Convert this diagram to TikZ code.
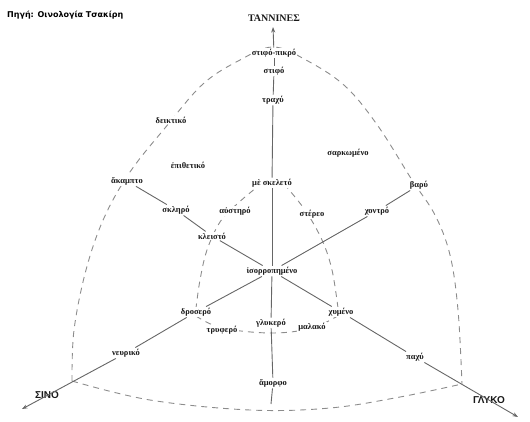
\documentclass[tikz,border=0pt]{standalone}
\usepackage{fontspec}
\setmainfont{Liberation Serif}
\newfontfamily\capsfont{Liberation Sans}
\newfontfamily\titlefont{DejaVu Sans}
\usetikzlibrary{arrows.meta,backgrounds}

\begin{document}
\begin{tikzpicture}[x=1pt,y=-1pt,
  lbl/.style={font=\fontsize{8.5}{9}\selectfont\bfseries, fill=white, inner sep=1.2pt, text=black!90},
  axlbl/.style={font=\capsfont\fontsize{10}{11}\selectfont\bfseries, inner sep=1pt, text=black!90},
  toplbl/.style={font=\fontsize{10}{11}\selectfont\bfseries, inner sep=1pt, text=black!90},
  srclbl/.style={font=\titlefont\fontsize{8}{9}\selectfont\bfseries, inner sep=0pt, anchor=west},
  axis/.style={draw=black!60, line width=0.9pt},
  guide/.style={draw=black!45, line width=0.9pt, dash pattern=on 6pt off 5pt},
  tip/.style={-{Stealth[length=5.5pt,width=4pt]}}
]
\useasboundingbox (0,0) rectangle (530,421);

% labels
\node[srclbl] (src) at (7,15) {Πηγή: Οινολογία Τσακίρη};
\node[toplbl] (tan) at (274,18) {ΤΑΝΝΙΝΕΣ};
\node[lbl] (stp) at (274,53) {στιφό-πικρό};
\node[lbl] (stf) at (274,71) {στιφό};
\node[lbl] (trx) at (273,100) {τραχύ};
\node[lbl] (dei) at (171,120) {δεικτικό};
\node[lbl] (epi) at (188,165) {ἐπιθετικό};
\node[lbl] (sar) at (348,153) {σαρκωμένο};
\node[lbl] (aka) at (127,181) {ἄκαμπτο};
\node[lbl] (msk) at (272,183) {μὲ σκελετό};
\node[lbl] (var) at (419,185) {βαρύ};
\node[lbl] (skl) at (176,210) {σκληρό};
\node[lbl] (afs) at (235,211) {αὐστηρό};
\node[lbl] (ste) at (312,214) {στέρεο};
\node[lbl] (xon) at (377,211) {χοντρό};
\node[lbl] (kle) at (212,236) {κλειστό};
\node[lbl] (iso) at (272,271) {ἰσορροπημένο};
\node[lbl] (dro) at (196,312) {δροσερό};
\node[lbl] (xym) at (341,312) {χυμένο};
\node[lbl] (gly) at (271,323) {γλυκερό};
\node[lbl] (tryf) at (222,330) {τρυφερό};
\node[lbl] (mal) at (312,327) {μαλακό};
\node[lbl] (nev) at (126,353) {νευρικό};
\node[lbl] (pax) at (415,357) {παχύ};
\node[lbl] (amo) at (273,383) {ἄμορφο};
\node[axlbl] (sino) at (47,395) {ΣΙΝΟ};
\node[axlbl] (glk) at (489,400) {ΓΛΥΚΟ};

% free ends of the three axes
\coordinate (tanTip) at (273,27);
\coordinate (sinoTip) at (22,409);
\coordinate (glkTip) at (518,417);
\coordinate (axEnd) at (271,404);

% tannin axis
\draw[axis,tip] (stp) -- (tanTip);
\draw[axis] (stf) -- (stp);
\draw[axis] (trx) -- (stf);
\draw[axis] (msk) -- (trx);
\draw[axis] (iso) -- (msk);
\draw[axis] (iso) -- (gly);
\draw[axis] (gly) -- (amo);
\draw[axis] (amo) -- (axEnd);

% acid axis
\draw[axis] (iso) -- (dro);
\draw[axis] (dro) -- (nev);
\draw[axis,tip] (nev) -- (sinoTip);

% sweet axis
\draw[axis] (iso) -- (xym);
\draw[axis] (xym) -- (pax);
\draw[axis,tip] (pax) -- (glkTip);

% diagonals
\draw[axis] (aka) -- (skl);
\draw[axis] (skl) -- (kle);
\draw[axis] (kle) -- (iso);
\draw[axis] (var) -- (xon);
\draw[axis] (xon) -- (iso);

% dashed boundaries, behind the labels
\begin{pgfonlayer}{background}
\draw[guide] plot[smooth,tension=0.6] coordinates {
  (72,381) (74,330) (86,270) (104,218) (130,172) (165,128) (203,84)
  (240,60) (273,47) (306,60) (345,86) (378,126) (412,180) (435,215)
  (450,255) (458,310) (462,384)};
\draw[guide] plot[smooth,tension=0.6] coordinates {
  (72,381) (150,400) (250,410) (330,408) (400,397) (462,384)};
\draw[guide] plot[smooth,tension=0.6] coordinates {
  (262,183) (237,204) (220,222) (207,250) (200,280) (196,308)};
\draw[guide] plot[smooth,tension=0.6] coordinates {
  (284,184) (305,210) (322,240) (332,270) (338,308)};
\draw[guide] plot[smooth,tension=0.6] coordinates {
  (196,316) (222,328) (272,333) (312,328) (341,314)};
\end{pgfonlayer}
\end{tikzpicture}
\end{document}
